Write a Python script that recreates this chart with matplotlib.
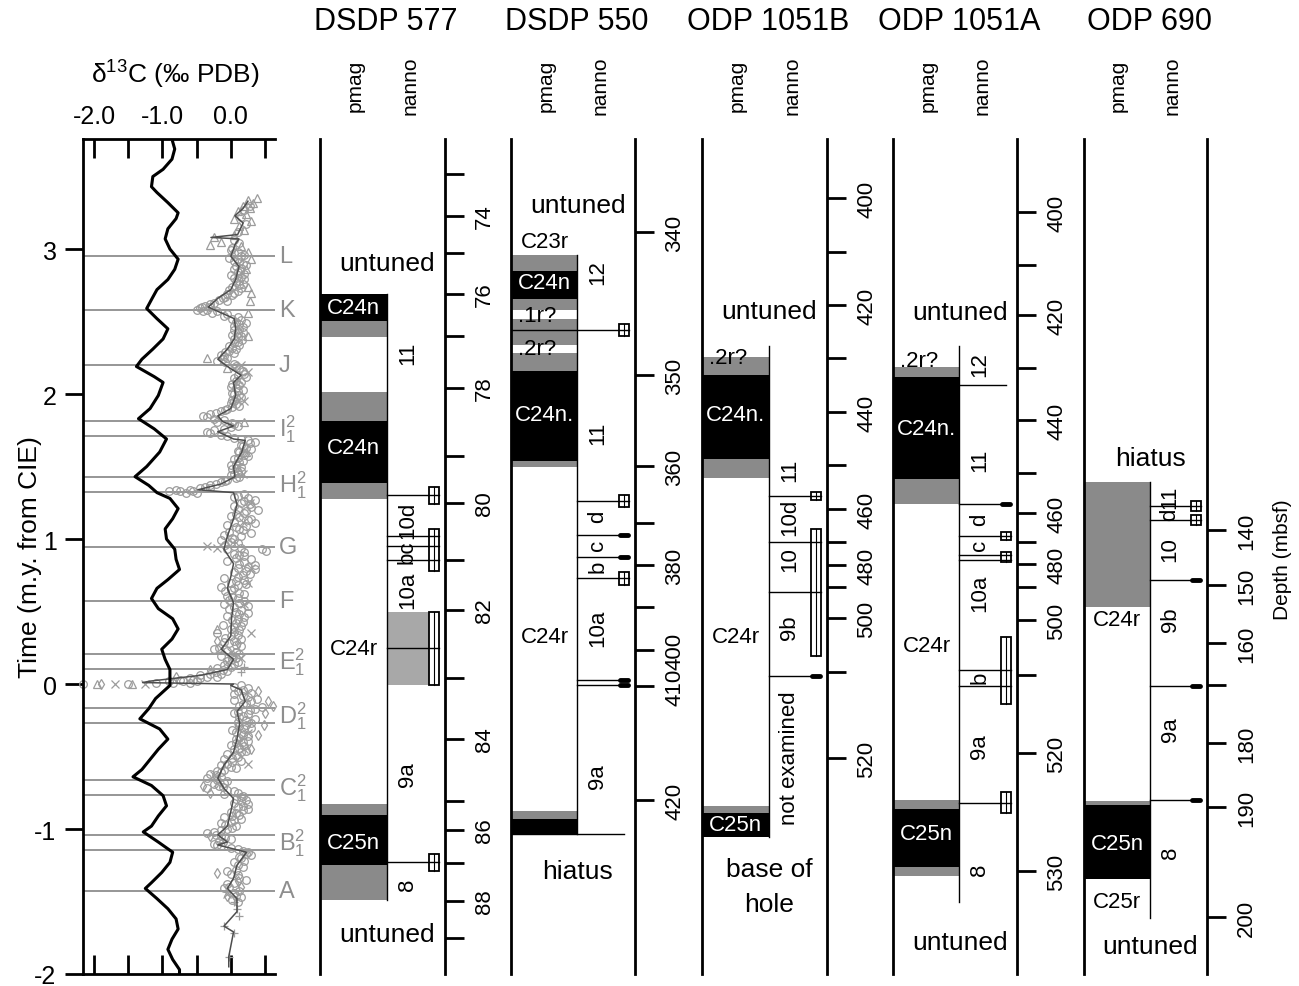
import numpy as np
import matplotlib
matplotlib.use('Agg')
import matplotlib.pyplot as plt
from matplotlib.patches import Rectangle

plt.rcParams['font.family'] = ['Liberation Sans', 'DejaVu Sans']
plt.rcParams['mathtext.fontset'] = 'custom'
plt.rcParams['mathtext.rm'] = 'Liberation Sans'
plt.rcParams['mathtext.it'] = 'Liberation Sans:italic'
plt.rcParams['mathtext.default'] = 'regular'

# ---------------------------------------------------------------- data
# time axis limits (m.y. from CIE)
T_MIN, T_MAX = -2.0, 3.759

# bulk carbonate d13C (black curve)
bulk_t = [3.74, 3.69, 3.62, 3.55, 3.50, 3.43, 3.39, 3.32, 3.25, 3.21, 3.14, 3.07, 3.00, 2.93, 2.86,
          2.79, 2.72, 2.66, 2.59, 2.52, 2.45, 2.38, 2.31, 2.24, 2.19, 2.12, 2.08, 1.99, 1.90, 1.83,
          1.76, 1.69, 1.60, 1.50, 1.43, 1.37, 1.32, 1.28, 1.21, 1.14, 1.07, 1.00, 0.93, 0.86, 0.79,
          0.72, 0.66, 0.59, 0.52, 0.45, 0.38, 0.31, 0.24, 0.17, 0.10, 0.03, -0.01, -0.10, -0.17, -0.24,
          -0.31, -0.38, -0.45, -0.52, -0.59, -0.64, -0.70, -0.77, -0.84, -0.91, -0.98, -1.02, -1.09, -1.16, -1.23,
          -1.30, -1.37, -1.41, -1.48, -1.55, -1.62, -1.69, -1.76, -1.83, -1.90, -1.97, -2.0]
bulk_v = [-0.85, -0.82, -0.86, -0.99, -1.14, -1.16, -1.08, -0.92, -0.77, -0.80, -0.92, -0.96, -0.89, -0.77, -0.82,
          -0.92, -1.08, -1.15, -1.23, -1.08, -0.92, -0.99, -1.14, -1.30, -1.38, -1.12, -0.99, -1.06, -1.18, -1.35,
          -1.12, -0.94, -1.04, -1.23, -1.40, -1.20, -1.08, -0.89, -0.77, -0.85, -0.96, -0.94, -0.82, -0.80, -0.75,
          -0.92, -1.08, -1.16, -1.06, -0.85, -0.77, -0.86, -1.01, -0.96, -0.89, -0.89, -0.89, -1.10, -1.20, -1.33,
          -1.04, -0.92, -1.06, -1.18, -1.30, -1.43, -1.16, -0.99, -0.94, -1.06, -1.16, -1.28, -1.06, -0.85, -0.89,
          -1.01, -1.16, -1.25, -1.08, -0.92, -0.80, -0.77, -0.86, -0.92, -0.85, -0.75, -0.75]

# benthic/stacked d13C running mean (dark grey line)
mean_t = [3.33, 3.28, 3.23, 3.18, 3.10, 3.08, 3.07, 3.03, 3.00, 2.95, 2.88, 2.79, 2.72, 2.66, 2.60,
          2.56, 2.52, 2.45, 2.38, 2.31, 2.24, 2.19, 2.13, 2.08, 1.99, 1.90, 1.85, 1.81, 1.78, 1.74,
          1.69, 1.68, 1.60, 1.50, 1.43, 1.38, 1.34, 1.32, 1.24, 1.14, 1.02, 0.93, 0.83, 0.74, 0.66,
          0.56, 0.45, 0.33, 0.24, 0.17, 0.10, 0.06, 0.02, 0.01, 0.0, -0.01, -0.04, -0.12, -0.19, -0.27,
          -0.38, -0.47, -0.56, -0.65, -0.72, -0.79, -0.88, -0.98, -1.04, -1.09, -1.11, -1.16, -1.25, -1.34, -1.41,
          -1.48, -1.57, -1.67, -1.71, -1.88, -1.95]
mean_v = [0.25, 0.18, 0.06, 0.18, 0.10, -0.29, 0.12, 0.06, 0.04, 0.0, 0.12, 0.07, 0.0, -0.19, -0.33,
          -0.14, 0.05, 0.07, 0.05, -0.05, -0.19, -0.05, 0.15, 0.04, 0.07, 0.0, -0.19, -0.12, 0.04, -0.19,
          0.04, 0.21, 0.16, 0.04, 0.06, -0.14, -0.48, 0.04, 0.09, 0.04, -0.05, -0.10, 0.04, 0.0, -0.05,
          0.04, 0.01, 0.0, -0.14, 0.04, -0.05, -0.44, -1.18, -1.29, 0.04, 0.0, 0.15, 0.21, 0.09, 0.13,
          0.09, 0.04, -0.10, -0.19, -0.10, 0.04, 0.0, -0.05, -0.19, -0.05, -0.19, 0.23, 0.09, 0.04, -0.05,
          0.09, 0.09, -0.10, 0.04, -0.03, -0.03]

# individual measurements (t, value) by symbol
circles = [
    (3.30, 0.28), (3.27, 0.20), (3.22, 0.15), (3.17, 0.22), (3.12, 0.10), (3.06, 0.05), (3.04, 0.12),
    (3.01, 0.02),
    (2.99, 0.00), (2.98, 0.10), (2.97, 0.05), (2.96, 0.20), (2.95, 0.15), (2.94, -0.02), (2.93, 0.10),
    (2.92, 0.05), (2.91, 0.12), (2.90, 0.18), (2.89, 0.22), (2.88, 0.08), (2.87, 0.15), (2.86, 0.05),
    (2.85, 0.14), (2.84, 0.10), (2.83, 0.20), (2.82, 0.00), (2.81, 0.15), (2.80, 0.05), (2.79, 0.20),
    (2.78, 0.12), (2.77, 0.08), (2.76, 0.18), (2.75, 0.12), (2.74, 0.02), (2.73, 0.15), (2.72, -0.02),
    (2.71, 0.10), (2.70, 0.05), (2.69, -0.05), (2.68, 0.02), (2.67, -0.08), (2.66, -0.12), (2.65, -0.18),
    (2.64, -0.05), (2.63, -0.25), (2.62, -0.30), (2.61, -0.38), (2.60, -0.30), (2.60, -0.42), (2.59, -0.45),
    (2.58, -0.35), (2.58, -0.50), (2.57, -0.20), (2.57, -0.40), (2.56, -0.28), (2.55, -0.05), (2.54, -0.10),
    (2.53, 0.10), (2.52, 0.02), (2.51, 0.15), (2.50, 0.08), (2.49, 0.22), (2.48, 0.12), (2.47, 0.05),
    (2.46, 0.18), (2.45, 0.12), (2.44, 0.05), (2.43, 0.18), (2.42, 0.10), (2.41, 0.02), (2.40, 0.15),
    (2.39, 0.10), (2.38, 0.05), (2.37, 0.16), (2.36, 0.10), (2.35, 0.05), (2.34, 0.12), (2.33, -0.02),
    (2.32, 0.02), (2.31, 0.08), (2.30, -0.02), (2.29, -0.08), (2.28, 0.05), (2.27, -0.15), (2.26, -0.10),
    (2.25, -0.05), (2.24, -0.12), (2.23, -0.20), (2.22, -0.08), (2.21, 0.05),
    (2.19, 0.08), (2.17, 0.12), (2.16, 0.18), (2.14, 0.20), (2.13, 0.10), (2.12, 0.22), (2.11, 0.05),
    (2.09, 0.08), (2.08, 0.15), (2.07, 0.02), (2.06, 0.12), (2.05, 0.0), (2.04, 0.08), (2.03, 0.18),
    (2.02, 0.10), (2.01, 0.02), (2.00, 0.05), (1.99, 0.12), (1.98, 0.15), (1.97, 0.08), (1.96, 0.02),
    (1.95, 0.05), (1.94, 0.00), (1.93, 0.08), (1.92, 0.12), (1.91, 0.02), (1.90, -0.05), (1.89, -0.08),
    (1.88, -0.15), (1.87, -0.22), (1.86, -0.30), (1.85, -0.40), (1.84, -0.35), (1.83, -0.25), (1.82, -0.10),
    (1.81, -0.20), (1.80, 0.02), (1.79, 0.05), (1.78, 0.10), (1.77, 0.0), (1.76, -0.10), (1.75, -0.25),
    (1.74, -0.35), (1.73, -0.30), (1.72, -0.15), (1.71, -0.05), (1.70, 0.05), (1.69, 0.15), (1.68, 0.25),
    (1.67, 0.35), (1.66, 0.28), (1.65, 0.15), (1.64, 0.18), (1.63, 0.22), (1.62, 0.30), (1.61, 0.10),
    (1.60, 0.12), (1.59, 0.18), (1.58, 0.20), (1.57, 0.25), (1.56, 0.10), (1.55, 0.05), (1.54, 0.18),
    (1.53, 0.12), (1.52, 0.08), (1.51, 0.0), (1.50, 0.15), (1.49, 0.08), (1.48, 0.02), (1.47, 0.15),
    (1.46, 0.10), (1.45, 0.05), (1.44, 0.00), (1.43, 0.12), (1.42, 0.08), (1.41, -0.05), (1.40, -0.08),
    (1.39, -0.15), (1.38, -0.22), (1.37, -0.30), (1.36, -0.38), (1.35, -0.45), (1.35, -0.30), (1.34, -0.60),
    (1.34, -0.80), (1.33, -0.75), (1.33, -0.90), (1.33, -0.55), (1.32, -0.65), (1.32, -0.50),
    (1.31, 0.20), (1.30, 0.10), (1.29, 0.05), (1.28, 0.25), (1.27, 0.35), (1.26, 0.20), (1.25, 0.15),
    (1.24, 0.28), (1.23, 0.05), (1.22, 0.30), (1.21, 0.10), (1.20, 0.40), (1.19, 0.22), (1.18, 0.20),
    (1.17, 0.08), (1.16, 0.0), (1.15, 0.12), (1.14, 0.30), (1.13, 0.25), (1.12, 0.05), (1.11, 0.35),
    (1.10, -0.05), (1.09, 0.22), (1.08, 0.08), (1.07, 0.12), (1.06, 0.18), (1.05, -0.02), (1.04, 0.30),
    (1.03, -0.10), (1.02, 0.15), (1.01, 0.02), (1.00, 0.05), (0.99, -0.15), (0.98, 0.00), (0.97, 0.10),
    (0.96, -0.08), (0.95, 0.05), (0.94, 0.15), (0.93, 0.45), (0.93, -0.05), (0.92, 0.52), (0.91, 0.20),
    (0.90, 0.05), (0.89, 0.12), (0.88, 0.20), (0.87, 0.08), (0.86, 0.30), (0.85, -0.05), (0.84, 0.20),
    (0.83, 0.12), (0.82, 0.35), (0.81, 0.25), (0.80, 0.10), (0.79, 0.35), (0.78, 0.22), (0.77, 0.05),
    (0.76, 0.28), (0.75, 0.18), (0.74, 0.10), (0.73, -0.10), (0.72, 0.20), (0.71, 0.08), (0.70, 0.00),
    (0.69, 0.22), (0.68, 0.10), (0.67, -0.15), (0.66, 0.05), (0.65, 0.0), (0.64, -0.08), (0.63, 0.12),
    (0.62, 0.20), (0.61, -0.05), (0.60, 0.02), (0.59, 0.10), (0.58, -0.02), (0.57, 0.20), (0.56, 0.12),
    (0.55, -0.10), (0.54, 0.25), (0.53, 0.05), (0.52, -0.02), (0.51, 0.15), (0.50, 0.08), (0.49, 0.25),
    (0.48, 0.12), (0.47, -0.05), (0.46, 0.20), (0.45, 0.10), (0.44, 0.02), (0.43, 0.18), (0.42, 0.08),
    (0.41, -0.12), (0.40, 0.15), (0.39, 0.05), (0.38, 0.00), (0.37, 0.12), (0.36, 0.05), (0.35, -0.20),
    (0.34, 0.10), (0.33, 0.0), (0.32, -0.08), (0.31, 0.15), (0.30, 0.05), (0.29, -0.10), (0.28, -0.02),
    (0.27, 0.08), (0.26, 0.15), (0.25, -0.18), (0.24, -0.25), (0.23, -0.05), (0.22, 0.08), (0.21, 0.12),
    (0.20, 0.02), (0.19, -0.15), (0.18, 0.08), (0.17, 0.02), (0.16, -0.05), (0.15, 0.10), (0.14, 0.05),
    (0.13, -0.10), (0.12, 0.00), (0.11, -0.20), (0.10, -0.12), (0.09, -0.05), (0.08, -0.22), (0.07, -0.30),
    (0.07, -0.15), (0.06, -0.45), (0.05, -0.20), (0.05, -0.35), (0.04, -0.60), (0.04, -0.45), (0.03, -0.75),
    (0.03, -0.55), (0.02, -0.90), (0.02, -0.50), (0.02, -0.70), (0.01, -1.10), (0.01, -0.85), (0.01, -0.60),
    (0.0, -1.50), (0.0, -2.16),
    (-0.01, 0.15), (-0.02, 0.05), (-0.03, 0.25), (-0.04, 0.18), (-0.05, 0.10), (-0.06, 0.30), (-0.07, 0.05),
    (-0.08, 0.18), (-0.09, 0.25), (-0.10, 0.38), (-0.11, 0.05), (-0.12, 0.30), (-0.13, 0.22), (-0.14, 0.18),
    (-0.15, 0.12), (-0.16, 0.45), (-0.17, 0.35), (-0.18, 0.28), (-0.19, 0.10), (-0.20, 0.05), (-0.21, 0.25),
    (-0.22, 0.18), (-0.23, 0.12), (-0.24, 0.35), (-0.25, 0.22), (-0.26, 0.10), (-0.27, 0.30), (-0.28, 0.22),
    (-0.29, 0.12), (-0.30, 0.30), (-0.31, 0.20), (-0.32, 0.02), (-0.33, 0.08), (-0.34, 0.15), (-0.35, 0.18),
    (-0.36, 0.25), (-0.37, 0.12), (-0.38, 0.08), (-0.39, 0.25), (-0.40, 0.18), (-0.41, 0.08), (-0.42, 0.0),
    (-0.43, 0.20), (-0.44, 0.12), (-0.45, 0.05), (-0.46, 0.22), (-0.47, 0.15), (-0.48, -0.05), (-0.49, 0.08),
    (-0.50, 0.10), (-0.51, 0.02), (-0.52, -0.10), (-0.53, 0.15), (-0.54, 0.02), (-0.55, -0.05), (-0.56, -0.15),
    (-0.57, 0.00), (-0.58, 0.08), (-0.59, -0.10),
    (-0.60, -0.20), (-0.61, -0.15), (-0.62, -0.30), (-0.63, -0.22), (-0.64, -0.15), (-0.65, -0.35),
    (-0.66, -0.20), (-0.67, -0.05), (-0.68, -0.10), (-0.69, -0.25), (-0.70, -0.18), (-0.71, -0.12),
    (-0.72, -0.35), (-0.73, -0.05), (-0.74, 0.05), (-0.75, 0.10), (-0.76, -0.10), (-0.77, 0.18),
    (-0.78, 0.15), (-0.79, 0.08), (-0.80, 0.22), (-0.81, 0.15), (-0.82, 0.05), (-0.83, 0.25), (-0.84, 0.18),
    (-0.85, 0.10), (-0.86, 0.25), (-0.87, 0.18), (-0.88, 0.0), (-0.89, 0.08), (-0.90, 0.12), (-0.91, 0.02),
    (-0.92, -0.10), (-0.93, 0.15), (-0.94, 0.05), (-0.95, 0.00), (-0.96, -0.15), (-0.97, -0.08),
    (-0.98, 0.08), (-0.99, 0.02), (-1.00, -0.05),
    (-1.01, -0.15), (-1.02, -0.25), (-1.03, -0.35), (-1.04, -0.22), (-1.05, -0.15), (-1.06, -0.08),
    (-1.07, 0.0), (-1.08, -0.18), (-1.09, -0.12), (-1.10, -0.25), (-1.11, -0.20), (-1.12, -0.15),
    (-1.13, 0.00), (-1.14, 0.10), (-1.15, 0.18), (-1.16, 0.25), (-1.17, 0.22), (-1.18, 0.30), (-1.19, 0.12),
    (-1.20, 0.15), (-1.22, 0.20), (-1.23, 0.05), (-1.25, 0.10), (-1.26, 0.18), (-1.28, 0.08), (-1.29, -0.05),
    (-1.31, 0.00), (-1.32, 0.10), (-1.34, 0.12), (-1.35, 0.22), (-1.37, 0.05), (-1.38, -0.05), (-1.40, -0.02),
    (-1.41, -0.10), (-1.43, 0.12), (-1.44, 0.05), (-1.46, 0.08), (-1.47, 0.15), (-1.49, 0.02), (-1.50, 0.10)]
triangles = [
    (3.35, 0.38), (3.34, 0.25), (3.32, 0.33), (3.30, 0.18), (3.28, 0.28), (3.26, 0.10), (3.24, 0.22),
    (3.21, 0.05), (3.19, 0.30), (3.16, 0.12), (3.13, 0.20), (3.10, 0.05), (3.08, -0.25), (3.05, -0.15),
    (3.03, -0.30), (3.02, 0.15), (2.98, 0.25), (2.93, 0.30), (2.86, 0.22), (2.74, 0.25), (2.70, 0.30),
    (2.64, 0.28), (2.56, 0.25), (2.40, 0.25), (2.25, -0.35), (2.18, -0.05), (1.81, 0.20), (1.60, 0.22),
    (0.38, -0.20), (0.0, -1.45), (0.0, -1.95)]
crosses = [
    (2.20, 0.15), (2.18, 0.05), (2.15, 0.25), (2.10, 0.10), (1.95, 0.20), (1.45, 0.18), (1.25, 0.28),
    (1.12, 0.18), (0.95, -0.35), (0.94, -0.20), (0.80, 0.30), (0.70, 0.25), (0.55, 0.20), (0.35, 0.30),
    (0.25, -0.15), (0.22, 0.0), (0.18, 0.15), (0.15, -0.05), (0.0, -1.70), (0.0, -1.25), (-0.30, 0.10),
    (-0.34, 0.25), (-0.40, 0.12), (-0.45, 0.20), (-0.55, 0.25), (-0.63, -0.25), (-0.68, -0.20), (-1.45, -0.05)]
diamonds = [
    (0.30, -0.20), (0.28, 0.10), (0.10, -0.30), (0.05, -0.80), (-0.05, 0.40), (-0.12, 0.55), (-0.15, 0.62),
    (-0.20, 0.50), (-0.28, 0.48), (-0.35, 0.40), (-0.45, 0.30), (-0.70, -0.40), (-0.75, -0.30),
    (-1.05, -0.30), (-1.30, -0.20), (-1.36, 0.10), (-1.40, 0.15), (-1.46, -0.05), (0.0, -1.90)]
pluses = [
    (-1.50, 0.05), (-1.55, 0.09), (-1.60, 0.12), (-1.67, -0.10), (-1.72, 0.05), (-1.88, -0.03),
    (0.08, 0.15), (0.12, 0.20)]

# correlation events
event_names = ['L', 'K', 'J', 'I2', 'I1', 'H2', 'H1', 'G', 'F', 'E2', 'E1', 'D2', 'D1',
               'C2', 'C1', 'B2', 'B1', 'A']
event_t = [2.952, 2.579, 2.197, 1.814, 1.710, 1.428, 1.324, 0.945, 0.572, 0.207, 0.103,
           -0.166, -0.269, -0.662, -0.766, -1.041, -1.145, -1.428]

# ---- cores: depth axis (depth in m and its position in time), pmag, nanno zones
core_names = ['DSDP 577', 'DSDP 550', 'ODP 1051B', 'ODP 1051A', 'ODP 690']

depth_577 = [73, 74, 75, 76, 77, 78, 79, 80, 81, 82, 83, 84, 85, 86, 87, 88, 89]
age_577 = [3.517, 3.228, 2.972, 2.690, 2.400, 2.041, 1.572, 1.248, 0.855, 0.510, 0.041,
           -0.379, -0.807, -1.007, -1.234, -1.497, -1.752]
lab_577 = [74, 76, 78, 80, 82, 84, 86, 88]
pmag_577 = [(2.690, 2.503, 'n'), (2.503, 2.393, 'u'), (2.393, 2.014, 'r'), (2.014, 1.814, 'u'),
            (1.814, 1.386, 'n'), (1.386, 1.276, 'u'), (1.276, -0.828, 'r'), (-0.828, -0.903, 'u'),
            (-0.903, -1.248, 'n'), (-1.248, -1.490, 'u')]
chron_577 = [(2.600, 'C24n'), (1.634, 'C24n'), (0.248, 'C24r'), (-1.090, 'C25n')]
zones_577 = [(2.290, '11'), (1.138, '10d'), (0.917, 'bc'), (0.655, '10a'), (-0.621, '9a'), (-1.379, '8')]
lines_577 = [1.303, 1.021, 0.952, 0.855, 0.248, -1.228]
full_577 = []
boxes_577 = [(1.359, 1.241), (1.069, 0.779), (0.497, -0.007), (-1.172, -1.290)]
dashes_577 = []
shade_577 = [(0.497, -0.007)]
notes_577 = [(2.903, 'untuned'), (-1.724, 'untuned')]
nspan_577 = (2.690, -1.490)

depth_550 = [340, 350, 360, 370, 380, 390, 400, 410, 420]
age_550 = [3.117, 2.131, 1.503, 1.110, 0.821, 0.531, 0.234, -0.014, -0.800]
lab_550 = [340, 350, 360, 380, 400, 410, 420]
pmag_550 = [(2.959, 2.848, 'u'), (2.848, 2.655, 'n'), (2.655, 2.579, 'u'), (2.579, 2.517, 'r'),
            (2.517, 2.338, 'u'), (2.338, 2.283, 'r'), (2.283, 2.159, 'u'), (2.159, 1.538, 'n'),
            (1.538, 1.497, 'u'), (1.497, -0.876, 'r'), (-0.876, -0.931, 'u'), (-0.931, -1.034, 'n')]
chron_550 = [(3.055, 'C23r'), (2.772, 'C24n'), (2.545, '.1r?'), (2.317, '.2r?'), (1.862, 'C24n.'),
             (0.331, 'C24r')]
zones_550 = [(2.848, '12'), (1.738, '11'), (1.159, 'd'), (0.966, 'c'), (0.814, 'b'), (0.393, '10a'),
             (-0.634, '9a')]
lines_550 = [1.262, 1.028, 0.876, 0.731, 0.028, -0.007]
full_550 = [2.441, -1.034]
boxes_550 = [(2.483, 2.400), (1.303, 1.221), (0.772, 0.683)]
dashes_550 = [1.028, 0.876, 0.028, -0.007]
shade_550 = []
notes_550 = [(3.303, 'untuned'), (-1.290, 'hiatus')]
nspan_550 = (2.959, -1.034)

depth_1051b = [400, 410, 420, 430, 440, 450, 460, 470, 480, 490, 500, 510, 520]
age_1051b = [3.352, 2.979, 2.614, 2.248, 1.876, 1.510, 1.207, 0.979, 0.821, 0.669, 0.455, 0.083, -0.510]
lab_1051b = [400, 420, 440, 460, 480, 500, 520]
pmag_1051b = [(2.255, 2.131, 'u'), (2.131, 1.552, 'n'), (1.552, 1.421, 'u'), (1.421, -0.841, 'r'),
              (-0.841, -0.890, 'u'), (-0.890, -1.055, 'n')]
chron_1051b = [(2.255, '.2r?'), (1.862, 'C24n.'), (0.331, 'C24r'), (-0.972, 'C25n')]
zones_1051b = [(1.483, '11'), (1.159, '10d'), (0.862, '10'), (0.393, '9b'), (-0.503, 'not examined')]
lines_1051b = [1.297, 0.979, 0.634, 0.055]
full_1051b = []
boxes_1051b = [(1.325, 1.269), (1.069, 0.193)]
dashes_1051b = [0.055]
shade_1051b = []
notes_1051b = [(2.572, 'untuned'), (-1.276, 'base of'), (-1.517, 'hole')]
nspan_1051b = (2.331, -1.055)

depth_1051a = [400, 410, 420, 430, 440, 450, 460, 470, 480, 490, 500, 510, 520, 530]
age_1051a = [3.255, 2.890, 2.545, 2.179, 1.821, 1.455, 1.179, 0.979, 0.828, 0.669, 0.441, 0.062,
             -0.476, -1.290]
lab_1051a = [400, 420, 440, 460, 480, 500, 520, 530]
pmag_1051a = [(2.186, 2.117, 'u'), (2.117, 1.414, 'n'), (1.414, 1.241, 'u'), (1.241, -0.800, 'r'),
              (-0.800, -0.862, 'u'), (-0.862, -1.262, 'n'), (-1.262, -1.324, 'u')]
chron_1051a = [(2.228, '.2r?'), (1.759, 'C24n.'), (0.269, 'C24r'), (-1.028, 'C25n')]
zones_1051a = [(2.207, '12'), (1.552, '11'), (1.138, 'd'), (0.966, 'c'), (0.634, '10a'), (0.048, 'b'),
               (-0.428, '9a'), (-1.276, '8')]
lines_1051a = [2.062, 1.241, 1.021, 0.890, 0.855, 0.097, -0.014, -0.821]
full_1051a = []
boxes_1051a = [(1.048, 0.993), (0.910, 0.840), (0.324, -0.138), (-0.745, -0.890)]
dashes_1051a = [1.241]
shade_1051a = []
notes_1051a = [(2.566, 'untuned'), (-1.779, 'untuned')]
nspan_1051a = (2.331, -1.503)

depth_690 = [140, 150, 160, 170, 180, 190, 200]
age_690 = [1.062, 0.683, 0.283, -0.007, -0.407, -0.848, -1.607]
lab_690 = [140, 150, 160, 180, 190, 200]
pmag_690 = [(1.393, 0.531, 'u'), (0.531, -0.807, 'r'), (-0.807, -0.834, 'u'), (-0.834, -1.345, 'n')]
chron_690 = [(0.448, 'C24r'), (-1.097, 'C25n'), (-1.503, 'C25r')]
zones_690 = [(1.297, '11'), (1.172, 'd'), (0.931, '10'), (0.448, '9b'), (-0.310, '9a'), (-1.159, '8')]
lines_690 = [1.228, 1.131, 0.717, -0.014, -0.800]
full_690 = []
boxes_690 = [(1.262, 1.193), (1.165, 1.097)]
dashes_690 = [0.717, -0.014, -0.800]
shade_690 = []
notes_690 = [(1.559, 'hiatus'), (-1.807, 'untuned')]
nspan_690 = (1.393, -1.614)

# ---------------------------------------------------------------- layout / style
W, H = 1299, 987
TOP, BOT = 140, 975
GRAY = '#8e8e8e'
PCOL = {'n': 'black', 'u': '#8a8a8a', 'r': 'white'}

fig = plt.figure(figsize=(W / 100, H / 100), dpi=100)


def add_ax(x0, x1):
    return fig.add_axes([x0 / W, 1 - BOT / H, (x1 - x0) / W, (BOT - TOP) / H])


# ---------------------------------------------------------------- isotope panel
ax = add_ax(83, 275)
ax.set_ylim(T_MIN, T_MAX)
ax.set_xlim(-2.161, 0.646)
for t in event_t:
    ax.axhline(t, color=GRAY, lw=1.3, zorder=1)

mk = dict(ls='none', mfc='none', mec='#9c9c9c', mew=0.9, ms=5.5, zorder=2, clip_on=False)
for arr, m in [(circles, 'o'), (triangles, '^'), (diamonds, 'd')]:
    a = np.array(arr)
    ax.plot(a[:, 1], a[:, 0], marker=m, **mk)
for arr, m in [(crosses, 'x'), (pluses, '+')]:
    a = np.array(arr)
    ax.plot(a[:, 1], a[:, 0], marker=m, ls='none', color='#9c9c9c', mew=0.9, ms=5.5, zorder=2,
            clip_on=False)
ax.plot(mean_v, mean_t, color='#4d4d4d', lw=1.1, zorder=3)
ax.plot(bulk_v, bulk_t, color='black', lw=2.2, zorder=4)

# event labels: single letters, or one letter with stacked 2/1 for paired events
done = set()
for name, t in zip(event_names, event_t):
    if name in done:
        continue
    if name[1:] == '2':
        partner = name[0] + '1'
        t1 = event_t[event_names.index(partner)]
        s = name[0] + '$^{2}_{1}$'
        ty = 0.5 * (t + t1)
        done.add(partner)
    else:
        s, ty = name, t
    ax.text(0.70, ty, s, color=GRAY, fontsize=17, ha='left', va='center', clip_on=False)

ax.spines['right'].set_visible(False)
for s in ['left', 'top', 'bottom']:
    ax.spines[s].set_linewidth(2)
ax.set_xticks([-2, -1.5, -1, -0.5, 0, 0.5])
ax.set_xticklabels(['-2.0', '', '-1.0', '', '0.0', ''])
ax.tick_params(axis='x', direction='in', top=True, bottom=True, labeltop=True, labelbottom=False,
               length=14, width=2, labelsize=18, pad=8)
ax.set_yticks([-2, -1, 0, 1, 2, 3])
ax.set_yticklabels(['-2', '-1', '0', '1', '2', '3'])
ax.tick_params(axis='y', direction='out', length=13, width=2, labelsize=18, pad=6)
ax.set_ylabel('Time (m.y. from CIE)', fontsize=19)
ax.yaxis.set_label_coords(-0.215, 0.5)
ax.text(0.479, 1.078, r'δ$^{13}$C (‰ PDB)', transform=ax.transAxes, ha='center', va='center',
        fontsize=19)

# ---------------------------------------------------------------- core columns
PM, MX, ZX, BW = 0.535, 0.91, 0.70, 0.04


def draw_core(x0, x1, name, depth, age, lab, pmag, chron, zones, lines, full, boxes, dashes,
              shade, notes, nspan):
    a = add_ax(x0, x1)
    a.set_xlim(0, 1)
    a.set_ylim(T_MIN, T_MAX)
    for s in ['top', 'bottom']:
        a.spines[s].set_visible(False)
    for s in ['left', 'right']:
        a.spines[s].set_linewidth(2)
        a.spines[s].set_zorder(10)
    a.set_xticks([])
    a.yaxis.tick_right()
    a.set_yticks(age)
    a.set_yticklabels([str(d) if d in lab else '' for d in depth], rotation=90, va='center')
    a.tick_params(axis='y', right=True, left=False, length=14, width=2, labelsize=16, pad=7)

    for top, bot, k in pmag:
        a.add_patch(Rectangle((0, bot), PM, top - bot, facecolor=PCOL[k], edgecolor='none', zorder=2))
    for top, bot in shade:
        a.add_patch(Rectangle((PM, bot), MX + BW - PM, top - bot, facecolor='#a8a8a8',
                              edgecolor='none', zorder=1))
    for t, s in chron:
        inside_black = any(k == 'n' and bot <= t <= top for top, bot, k in pmag)
        x = 0.21 if s.startswith('.') else 0.27
        a.text(x, t, s, color='white' if inside_black else 'black', ha='center', va='center',
               fontsize=16, zorder=4)
    a.plot([PM, PM], list(nspan), color='black', lw=1.0, zorder=3)
    for t in lines:
        a.plot([PM, MX], [t, t], color='black', lw=1.0, zorder=3)
    for t in full:
        a.plot([0, MX], [t, t], color='black', lw=1.0, zorder=3)
    for top, bot in boxes:
        a.add_patch(Rectangle((MX - BW, bot), 2 * BW, top - bot, facecolor='white', edgecolor='black',
                              lw=1.3, zorder=5))
        a.plot([MX, MX], [bot, top], color='black', lw=0.8, zorder=6)
        for t in lines + full:
            if bot <= t <= top:
                a.plot([MX - BW, MX + BW], [t, t], color='black', lw=1.0, zorder=6)
    for t in dashes:
        a.plot([MX - 0.03, MX + 0.03], [t, t], color='black', lw=3.5, solid_capstyle='round',
               zorder=6)
    for t, s in zones:
        a.text(ZX, t, s, rotation=90, ha='center', va='center', fontsize=16, zorder=4)
    for t, s in notes:
        a.text(0.54, t, s, ha='center', va='center', fontsize=19, zorder=4)

    a.text(0.53, 1.1413, name, transform=a.transAxes, ha='center', va='center', fontsize=22)
    a.text(0.28, 1.0647, 'pmag', transform=a.transAxes, rotation=90, ha='center', va='center',
           fontsize=15)
    a.text(0.72, 1.0647, 'nanno', transform=a.transAxes, rotation=90, ha='center', va='center',
           fontsize=15)
    return a


draw_core(320, 445, core_names[0], depth_577, age_577, lab_577, pmag_577, chron_577, zones_577,
          lines_577, full_577, boxes_577, dashes_577, shade_577, notes_577, nspan_577)
draw_core(511, 635, core_names[1], depth_550, age_550, lab_550, pmag_550, chron_550, zones_550,
          lines_550, full_550, boxes_550, dashes_550, shade_550, notes_550, nspan_550)
draw_core(702, 827, core_names[2], depth_1051b, age_1051b, lab_1051b, pmag_1051b, chron_1051b,
          zones_1051b, lines_1051b, full_1051b, boxes_1051b, dashes_1051b, shade_1051b, notes_1051b,
          nspan_1051b)
draw_core(893, 1017, core_names[3], depth_1051a, age_1051a, lab_1051a, pmag_1051a, chron_1051a,
          zones_1051a, lines_1051a, full_1051a, boxes_1051a, dashes_1051a, shade_1051a, notes_1051a,
          nspan_1051a)
a690 = draw_core(1084, 1207, core_names[4], depth_690, age_690, lab_690, pmag_690, chron_690,
                 zones_690, lines_690, full_690, boxes_690, dashes_690, shade_690, notes_690,
                 nspan_690)
a690.text(1.61, 0.497, 'Depth (mbsf)', transform=a690.transAxes, rotation=90, ha='center',
          va='center', fontsize=15)

fig.savefig('out.png', dpi=100)
